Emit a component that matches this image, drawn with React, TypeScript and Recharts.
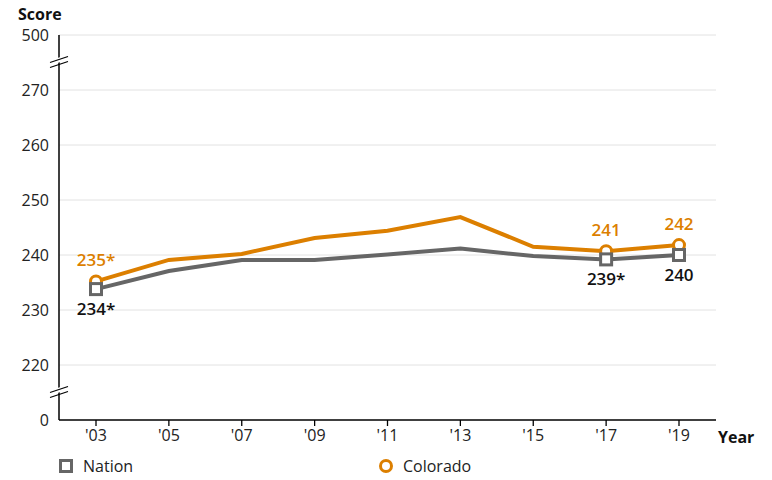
import React from "react"
import { LineChart, Line, XAxis, YAxis, CartesianGrid, LabelList } from "recharts"

const years = ["'03", "'05", "'07", "'09", "'11", "'13", "'15", "'17", "'19"]
const colorado = [235.2, 239.1, 240.2, 243.1, 244.4, 246.9, 241.5, 240.7, 241.8]
const nation = [233.8, 237.1, 239.1, 239.1, 240.1, 241.2, 239.8, 239.2, 240.0]
const coloradoLabels = ["235*", "", "", "", "", "", "", "241", "242"]
const nationLabels = ["234*", "", "", "", "", "", "", "239*", "240"]

// axis is broken: 210 stands for 0 and 280 stands for 500
const yTicks = [210, 215, 220, 230, 240, 250, 260, 270, 275, 280]
const yTickText: Record<number, string> = { 210: "0", 280: "500" }

const data = years.map((year, i) => ({
    year,
    colorado: colorado[i],
    nation: nation[i],
    cLabel: coloradoLabels[i],
    nLabel: nationLabels[i],
}))

const ORANGE = "#dc7f00"
const GRAY = "#666666"
const FONT = "'Open Sans', 'Noto Sans', sans-serif"
const AXIS_X = 59

function YTick(props: any) {
    const { y, payload } = props
    const v = payload.value
    if (v === 215 || v === 275) {
        return (
            <g>
                <polygon points={`${AXIS_X - 9},${y + 3} ${AXIS_X + 9},${y - 3} ${AXIS_X + 9},${y - 8} ${AXIS_X - 9},${y - 2}`} fill="#fff" />
                <line x1={AXIS_X - 9} y1={y + 5} x2={AXIS_X + 9} y2={y - 1} stroke="#000" strokeWidth={1.3} />
                <line x1={AXIS_X - 9} y1={y} x2={AXIS_X + 9} y2={y - 6} stroke="#000" strokeWidth={1.3} />
            </g>
        )
    }
    return (
        <text x={AXIS_X - 10} y={y} dy={5.5} textAnchor="end" fontSize={16} fill="#222" fontFamily={FONT}>
            {yTickText[v] ?? String(v)}
        </text>
    )
}

function circleDot(props: any) {
    const { cx, cy, index } = props
    if (!coloradoLabels[index]) return <g key={`c${index}`} />
    return <circle key={`c${index}`} cx={cx} cy={cy} r={5.5} fill="#fff" stroke={ORANGE} strokeWidth={3} />
}

function squareDot(props: any) {
    const { cx, cy, index } = props
    if (!nationLabels[index]) return <g key={`n${index}`} />
    return <rect key={`n${index}`} x={cx - 5.5} y={cy - 5.5} width={11} height={11} fill="#fff" stroke={GRAY} strokeWidth={3} />
}

const textStyle = { fontFamily: FONT, fontSize: 16, color: "#222" }

export default function App() {
    return (
        <div style={{ position: "absolute", left: 0, top: 0, width: 772, height: 480 }}>
            <LineChart width={772} height={480} data={data} margin={{ top: 35, right: 56, bottom: 30, left: 0 }}>
                <CartesianGrid vertical={false} stroke="#e2e2e2" horizontalValues={[220, 230, 240, 250, 260, 270, 280]} />
                <XAxis
                    dataKey="year"
                    height={30}
                    padding={{ left: 37, right: 37 }}
                    axisLine={{ stroke: "#000", strokeWidth: 1.5 }}
                    tickLine={{ stroke: "#000", strokeWidth: 1.3 }}
                    tickSize={6}
                    tickMargin={4}
                    tick={{ fontSize: 16, fill: "#222", fontFamily: FONT }}
                />
                <YAxis
                    width={59}
                    domain={[210, 280]}
                    ticks={yTicks}
                    interval={0}
                    allowDataOverflow
                    axisLine={{ stroke: "#000", strokeWidth: 1.5 }}
                    tickLine={false}
                    tick={<YTick />}
                />
                <Line dataKey="colorado" name="Colorado" stroke={ORANGE} strokeWidth={4} dot={circleDot} activeDot={false} isAnimationActive={false}>
                    <LabelList dataKey="cLabel" position="top" offset={15} fill={ORANGE} fontSize={17} fontWeight={600} fontFamily={FONT} />
                </Line>
                <Line dataKey="nation" name="Nation" stroke={GRAY} strokeWidth={4} dot={squareDot} activeDot={false} isAnimationActive={false}>
                    <LabelList dataKey="nLabel" position="bottom" offset={14} fill="#111" fontSize={17} fontWeight={600} fontFamily={FONT} />
                </Line>
            </LineChart>
            <div style={{ position: "absolute", left: 18, top: 3, fontFamily: FONT, fontWeight: 700, fontSize: 16, color: "#111" }}>Score</div>
            <div style={{ position: "absolute", left: 718, top: 426, fontFamily: FONT, fontWeight: 700, fontSize: 16, color: "#111" }}>Year</div>
            <div style={{ ...textStyle, position: "absolute", left: 58, top: 455, display: "flex", alignItems: "center" }}>
                <svg width={16} height={16}>
                    <rect x={2.5} y={2.5} width={11} height={11} fill="#fff" stroke={GRAY} strokeWidth={3} />
                </svg>
                <span style={{ marginLeft: 9 }}>Nation</span>
            </div>
            <div style={{ ...textStyle, position: "absolute", left: 378, top: 455, display: "flex", alignItems: "center" }}>
                <svg width={16} height={16}>
                    <circle cx={8} cy={8} r={5.5} fill="#fff" stroke={ORANGE} strokeWidth={3} />
                </svg>
                <span style={{ marginLeft: 9 }}>Colorado</span>
            </div>
        </div>
    )
}
